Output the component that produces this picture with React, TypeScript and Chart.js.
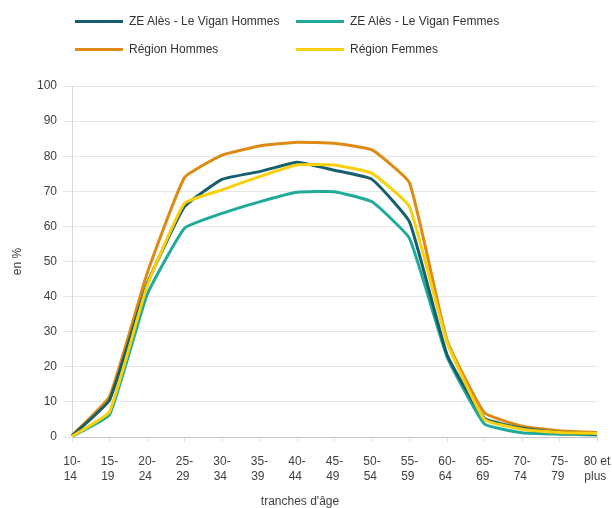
import React, { useEffect, useRef } from "react";
import { Chart, registerables } from "chart.js";

Chart.register(...registerables);

const categories: string[][] = [
  ["10-", "14"], ["15-", "19"], ["20-", "24"], ["25-", "29"], ["30-", "34"],
  ["35-", "39"], ["40-", "44"], ["45-", "49"], ["50-", "54"], ["55-", "59"],
  ["60-", "64"], ["65-", "69"], ["70-", "74"], ["75-", "79"], ["80 et", "plus"],
];

const zeHommes = [0.3, 10.5, 43.5, 65.6, 73.4, 75.6, 78.3, 76.0, 73.4, 61.3, 23.5, 5.3, 2.5, 1.3, 0.8];
const zeFemmes = [0.2, 6.3, 40.5, 59.5, 63.7, 67.0, 69.7, 69.9, 67.0, 56.6, 22.9, 3.7, 1.2, 0.8, 0.6];
const regionHommes = [0.4, 11.5, 46.5, 73.9, 80.3, 82.9, 84.0, 83.7, 81.8, 72.4, 27.6, 6.9, 3.1, 1.8, 1.3];
const regionFemmes = [0.2, 7.2, 43.0, 66.6, 70.4, 74.2, 77.5, 77.5, 75.1, 65.6, 27.0, 5.0, 2.2, 1.3, 1.0];

const seriesNames = [
  "ZE Alès - Le Vigan Hommes",
  "ZE Alès - Le Vigan Femmes",
  "Région Hommes",
  "Région Femmes",
];
const colors = ["#155f6d", "#20aa9b", "#de8a14", "#f8d00c"];

const FONT = "'Liberation Sans', Arial, sans-serif";

export default function App() {
  const ref = useRef<HTMLCanvasElement | null>(null);

  useEffect(() => {
    document.body.style.margin = "0";
    const canvas = ref.current;
    if (!canvas) return;
    const values = [zeHommes, zeFemmes, regionHommes, regionFemmes];
    const chart = new Chart(canvas, {
      type: "line",
      data: {
        labels: categories,
        datasets: values.map((v, i) => ({
          label: seriesNames[i],
          data: v,
          borderColor: colors[i],
          backgroundColor: colors[i],
          borderWidth: 3,
          pointRadius: 0,
          tension: 0.12,
          fill: false,
          order: i === 3 ? 0 : i + 1,
        })),
      },
      options: {
        responsive: false,
        animation: false,
        devicePixelRatio: 1,
        layout: { padding: { top: 86, right: 15, left: 0, bottom: 0 } },
        plugins: {
          legend: { display: false },
          tooltip: { enabled: false },
        },
        scales: {
          x: {
            type: "category",
            offset: false,
            grid: {
              drawOnChartArea: false,
              drawTicks: true,
              tickLength: 5,
              color: "#e0e0e0",
            },
            border: { display: true, color: "#c4c4c4", width: 1 },
            ticks: {
              autoSkip: false,
              maxRotation: 0,
              minRotation: 0,
              padding: 12,
              color: "#404040",
              font: { family: FONT, size: 12, lineHeight: 1.25 },
              callback: (_v: any, i: number) => {
                const c = categories[i];
                // pad second line so both lines share a left edge (block centred on the tick)
                return [c[0], c[1] + " "];
              },
            },
            afterFit: (s: any) => {
              s.height = 71;
              s.paddingLeft = 0;
              s.paddingRight = 0;
            },
          },
          y: {
            min: 0,
            max: 100,
            ticks: {
              stepSize: 10,
              padding: 6,
              color: "#404040",
              font: { family: FONT, size: 12 },
            },
            grid: {
              color: "#e6e6e6",
              tickLength: 9,
              drawTicks: true,
            },
            border: { display: true, color: "#d9d9d9", width: 1 },
            title: {
              display: true,
              text: "en %",
              color: "#404040",
              font: { family: FONT, size: 12 },
              padding: { top: 10, bottom: 0 },
            },
            afterFit: (s: any) => {
              s.width = 72;
            },
          },
        },
      },
    });
    return () => chart.destroy();
  }, []);

  const legendItems = [
    { x: 75, y: 21, i: 0 },
    { x: 296, y: 21, i: 1 },
    { x: 75, y: 49, i: 2 },
    { x: 296, y: 49, i: 3 },
  ];

  return (
    <div style={{ position: "absolute", left: 0, top: 0, width: 612, height: 508, background: "#ffffff", fontFamily: FONT, overflow: "hidden" }}>
      <canvas ref={ref} width={612} height={508} style={{ position: "absolute", left: 0, top: 0, width: 612, height: 508 }} />
      {legendItems.map((it) => (
        <div key={it.i} style={{ position: "absolute", left: it.x, top: it.y - 8, height: 16, display: "flex", alignItems: "center", whiteSpace: "nowrap" }}>
          <span style={{ display: "inline-block", width: 48, height: 3, background: colors[it.i], marginRight: 6 }} />
          <span style={{ fontSize: 12, color: "#333333", lineHeight: "16px" }}>{seriesNames[it.i]}</span>
        </div>
      ))}
      <div style={{ position: "absolute", left: 200, width: 200, top: 493, height: 16, textAlign: "center", fontSize: 12, color: "#404040", lineHeight: "16px" }}>
        tranches d'âge
      </div>
    </div>
  );
}
